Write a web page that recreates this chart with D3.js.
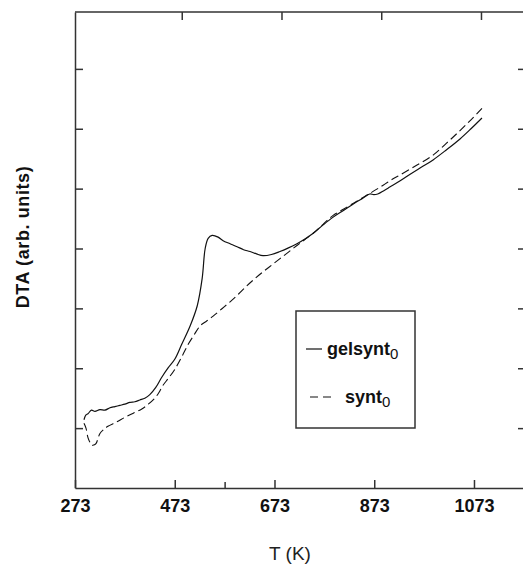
<!DOCTYPE html>
<html>
<head>
<meta charset="utf-8">
<script src="https://d3js.org/d3.v7.min.js"></script>
<style>
  body { margin: 0; background: #fff; }
  svg { font-family: "Liberation Sans", Arial, sans-serif; }
  .frame path.domain { stroke: #333; stroke-width: 1.5; }
  .frame .tick line { stroke: #333; stroke-width: 1.5; }
  .xlab .tick text { font-size: 18px; font-weight: bold; fill: #111; }
</style>
</head>
<body>
<div id="chart"></div>
<script>
// temperatures (K) and DTA signal (arb. units)
var gelT = [291, 295, 299, 306, 313, 323, 333, 343, 353, 363, 373, 383, 393, 403, 413, 423,
            435, 447, 460, 473, 487, 504, 518, 528, 534, 540, 548, 560, 570, 584, 598, 611,
            624, 637, 650, 667, 684, 701, 718, 734, 750, 770, 790, 812, 834, 850, 864, 872,
            880, 893, 905, 925, 945, 968, 991, 1018, 1045, 1067, 1089];
var gelDTA = [0.14, 0.22, 0.24, 0.30, 0.28, 0.31, 0.30, 0.34, 0.36, 0.38, 0.40, 0.43, 0.44, 0.47, 0.50, 0.56,
              0.68, 0.85, 1.01, 1.15, 1.40, 1.71, 2.04, 2.50, 3.00, 3.17, 3.22, 3.19, 3.13, 3.08, 3.03, 2.98,
              2.95, 2.91, 2.88, 2.90, 2.95, 3.01, 3.08, 3.16, 3.25, 3.39, 3.52, 3.64, 3.76, 3.84, 3.91, 3.90,
              3.91, 3.97, 4.03, 4.13, 4.24, 4.36, 4.48, 4.65, 4.83, 5.00, 5.18];

var syntT = [291, 295, 299, 303, 307, 311, 315, 323, 331, 339, 356, 373, 390, 407, 420, 433,
             441, 449, 461, 473, 487, 500, 512, 524, 537, 550, 567, 584, 601, 618, 634, 650,
             667, 684, 701, 718, 734, 750, 770, 790, 812, 834, 850, 864, 880, 895, 910, 925,
             958, 991, 1018, 1045, 1067, 1089];
var syntDTA = [0.08, 0.00, -0.16, -0.24, -0.29, -0.28, -0.26, -0.09, -0.02, 0.03, 0.10, 0.18, 0.25, 0.32, 0.40, 0.50,
               0.59, 0.71, 0.84, 0.98, 1.19, 1.40, 1.56, 1.71, 1.79, 1.87, 1.99, 2.11, 2.24, 2.38, 2.50, 2.61,
               2.72, 2.83, 2.94, 3.05, 3.15, 3.25, 3.40, 3.55, 3.66, 3.77, 3.85, 3.92, 4.00, 4.08, 4.16, 4.23,
               4.39, 4.56, 4.76, 4.97, 5.15, 5.34];

var xTicks = [273, 473, 673, 873, 1073];
var xMinorTicks = [573];
var yTicks = [0, 1, 2, 3, 4, 5, 6];

var legendNames = ["gelsynt", "synt"];

var svg = d3.select("#chart").append("svg")
    .attr("width", 523)
    .attr("height", 565);

var plotLeft = 75, plotRight = 525, plotTop = 12, plotBottom = 488;

var x = d3.scaleLinear().domain([273, 1175.3]).range([plotLeft, plotRight]);
var y = d3.scaleLinear().domain([-1, 6.95]).range([plotBottom, plotTop]);
// the scanned original is slightly skewed: top ticks sit ~7px right of the bottom ones
var xTop = x.copy().range([plotLeft + 7, plotRight + 7]);

// frame with inward ticks
svg.append("g")
    .attr("class", "frame xlab")
    .attr("transform", "translate(0," + plotBottom + ")")
    .call(d3.axisBottom(x).tickValues(xTicks).tickSizeInner(-8).tickSizeOuter(0)
      .tickPadding(11).tickFormat(d3.format("d")));

svg.append("g")
    .attr("class", "frame")
    .attr("transform", "translate(0," + plotBottom + ")")
    .call(d3.axisBottom(x).tickValues(xMinorTicks).tickSizeInner(-6).tickSizeOuter(0).tickFormat(""))
    .select(".domain").remove();

svg.append("line")
    .attr("x1", plotLeft).attr("x2", plotRight)
    .attr("y1", plotTop).attr("y2", plotTop)
    .attr("stroke", "#333").attr("stroke-width", 1.5);

svg.append("g")
    .attr("class", "frame")
    .attr("transform", "translate(0," + plotTop + ")")
    .call(d3.axisTop(xTop).tickValues(xTicks.slice(1)).tickSizeInner(-8).tickSizeOuter(0).tickFormat(""))
    .select(".domain").remove();

svg.append("g")
    .attr("class", "frame")
    .attr("transform", "translate(" + plotLeft + ",0)")
    .call(d3.axisLeft(y).tickValues(yTicks).tickSizeInner(-8).tickSizeOuter(0).tickFormat(""));

svg.append("g")
    .attr("class", "frame")
    .attr("transform", "translate(" + plotRight + ",0)")
    .call(d3.axisRight(y).tickValues(yTicks).tickSizeInner(-7).tickSizeOuter(0).tickFormat(""));

// curves
var line = d3.line()
    .x(function(d) { return x(d[0]); })
    .y(function(d) { return y(d[1]); })
    .curve(d3.curveCatmullRom);

svg.append("path")
    .datum(d3.zip(gelT, gelDTA))
    .attr("fill", "none")
    .attr("stroke", "#111")
    .attr("stroke-width", 1.2)
    .attr("d", line);

svg.append("path")
    .datum(d3.zip(syntT, syntDTA))
    .attr("fill", "none")
    .attr("stroke", "#111")
    .attr("stroke-width", 1.1)
    .attr("stroke-dasharray", "8,4")
    .attr("d", line);

// legend
var leg = svg.append("g");
leg.append("rect")
    .attr("x", 296).attr("y", 311)
    .attr("width", 119).attr("height", 117)
    .attr("fill", "#fff")
    .attr("stroke", "#333")
    .attr("stroke-width", 1.5);

leg.append("line")
    .attr("x1", 306).attr("x2", 322).attr("y1", 349).attr("y2", 349)
    .attr("stroke", "#111").attr("stroke-width", 1.2);
leg.append("line")
    .attr("x1", 310).attr("x2", 331).attr("y1", 397).attr("y2", 397)
    .attr("stroke", "#111").attr("stroke-width", 1.2)
    .attr("stroke-dasharray", "8,5");

var t1 = leg.append("text").attr("x", 327).attr("y", 355)
    .attr("font-size", 18).attr("font-weight", "bold").attr("fill", "#111");
t1.append("tspan").text(legendNames[0]);
t1.append("tspan").attr("dy", 4).attr("font-size", 15).attr("font-weight", "normal").text("0");

var t2 = leg.append("text").attr("x", 345).attr("y", 403)
    .attr("font-size", 18).attr("font-weight", "bold").attr("fill", "#111");
t2.append("tspan").text(legendNames[1]);
t2.append("tspan").attr("dy", 4).attr("font-size", 15).attr("font-weight", "normal").text("0");

// axis titles
svg.append("text")
    .attr("transform", "translate(29,237) rotate(-90)")
    .attr("text-anchor", "middle")
    .attr("font-size", 18)
    .attr("font-weight", "bold")
    .attr("letter-spacing", 0.6)
    .attr("fill", "#111")
    .text("DTA (arb. units)");

svg.append("text")
    .attr("x", 290).attr("y", 560)
    .attr("text-anchor", "middle")
    .attr("font-size", 19)
    .attr("fill", "#222")
    .text("T (K)");
</script>
</body>
</html>
